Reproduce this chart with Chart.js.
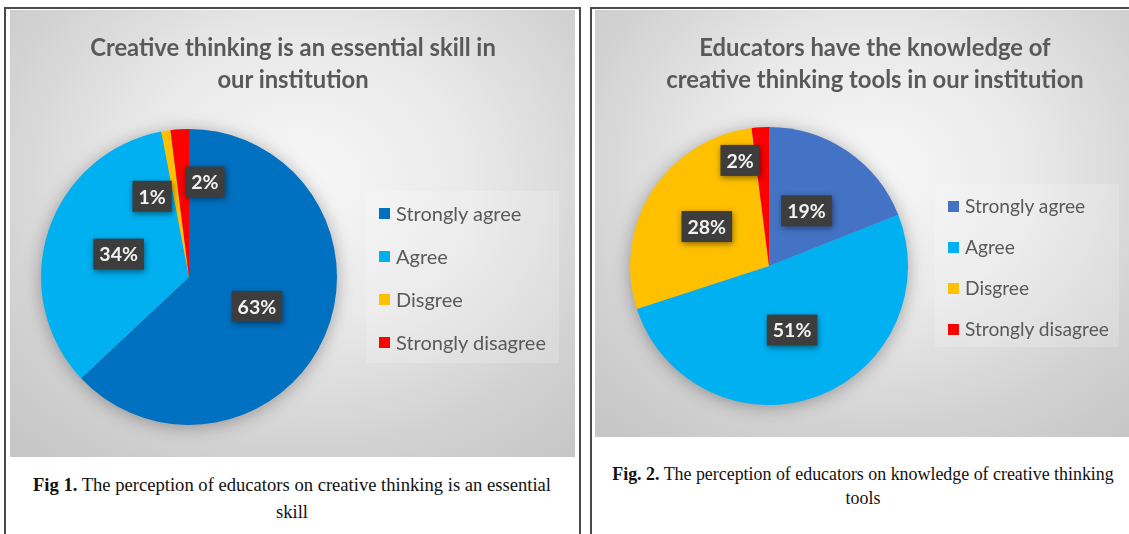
<!DOCTYPE html>
<html>
<head>
<meta charset="utf-8">
<script src="https://cdn.jsdelivr.net/npm/chart.js@4.4.1/dist/chart.umd.min.js"></script>
<style>
  body { margin: 0; width: 1129px; height: 534px; background: #fff; position: relative; overflow: hidden; }
  .frame { position: absolute; border: 2px solid #4a4a4a; border-bottom: none; box-sizing: border-box; }
  .panel { position: absolute; overflow: hidden;
    background: radial-gradient(ellipse 75% 80% at 52% 38%, #f7f7f7 0%, #e9e9e9 40%, #d2d2d2 75%, #c6c6c6 100%); }
  .panel canvas { position: absolute; left: 0; top: 0; }
  .title { position: absolute; width: 520px; text-align: center; font: bold 23.8px Lato, sans-serif;
    color: #595959; line-height: 31.5px; white-space: nowrap; }
  .legend { position: absolute; background: rgba(255,255,255,0.18); }
  .legend .item { position: absolute; white-space: nowrap; font-family: Lato, sans-serif; color: #595959; line-height: 22px; }
  .legend .swatch { position: absolute; width: 11px; height: 11px; top: 6px; }
  .caption { position: absolute; width: 560px; text-align: center; white-space: nowrap;
    font-family: "Liberation Serif", "Times New Roman", serif; color: #111; }
</style>
</head>
<body>
<div class="frame" style="left:4px; top:7px; width:577px; height:540px;"></div>
<div class="frame" style="left:590px; top:7px; width:560px; height:540px; border-right:none;"></div>

<div class="panel" id="panel1" style="left:10px; top:10px; width:565px; height:447px;">
  <canvas id="pie1" width="565" height="447"></canvas>
</div>
<div class="panel" id="panel2" style="left:595px; top:10px; width:534px; height:427px;">
  <canvas id="pie2" width="534" height="427"></canvas>
</div>

<div class="title" style="left:33px; top:32px;">Creative thinking is an essential skill in<br>our institution</div>
<div class="title" style="left:615px; top:32px;">Educators have the knowledge of<br>creative thinking tools in our institution</div>

<div class="legend" id="legend1" style="left:366px; top:191px; width:193px; height:172px; font-size:20px;"></div>
<div class="legend" id="legend2" style="left:935px; top:184px; width:184px; height:163px; font-size:19.2px;"></div>

<div class="caption" style="left:12px; top:471px; line-height:27px; font-size:18.6px;"><b>Fig 1.</b> The perception of educators on creative thinking is an essential<br>skill</div>
<div class="caption" style="left:583px; top:462px; line-height:24px; font-size:17.9px;"><b>Fig. 2.</b> The perception of educators on knowledge of creative thinking<br>tools</div>

<script>
// answer categories (same for both figures)
const categories = ['Strongly agree', 'Agree', 'Disgree', 'Strongly disagree'];

// Fig 1 - creative thinking is an essential skill (%)
const essentialSkill = [63, 34, 1, 2];
// Fig 2 - educators know creative thinking tools (%)
const toolsKnowledge = [19, 51, 28, 2];

const colors1 = ['#0070C0', '#00B0F0', '#FFC000', '#FF0000'];
const colors2 = ['#4472C4', '#00B0F0', '#FFC000', '#FF0000'];

// soft shadow behind the whole pie
const pieShadow = {
  id: 'pieShadow',
  beforeDatasetsDraw(chart) {
    const arc = chart.getDatasetMeta(0).data[0];
    if (!arc) return;
    const ctx = chart.ctx;
    ctx.save();
    ctx.shadowColor = 'rgba(0,0,0,0.35)';
    ctx.shadowBlur = 18;
    ctx.shadowOffsetY = 2;
    ctx.beginPath();
    ctx.arc(arc.x, arc.y, arc.outerRadius - 1, 0, Math.PI * 2);
    ctx.fillStyle = '#999';
    ctx.fill();
    ctx.restore();
  }
};

// dark callout boxes with the percentage, Excel style
const boxLabels = {
  id: 'boxLabels',
  afterDatasetsDraw(chart, args, opts) {
    const ctx = chart.ctx;
    const values = chart.data.datasets[0].data;
    chart.getDatasetMeta(0).data.forEach((arc, i) => {
      const mid = (arc.startAngle + arc.endAngle) / 2;
      const f = opts.radius[i];
      const shift = opts.shift[i];
      const x = arc.x + Math.cos(mid) * arc.outerRadius * f + shift[0];
      const y = arc.y + Math.sin(mid) * arc.outerRadius * f + shift[1];
      const text = values[i] + '%';
      ctx.save();
      ctx.font = 'bold 19.5px Lato, sans-serif';
      const w = ctx.measureText(text).width + 12;
      const h = 31;
      ctx.shadowColor = 'rgba(0,0,0,0.45)';
      ctx.shadowBlur = 6;
      ctx.shadowOffsetX = 1;
      ctx.shadowOffsetY = 2;
      ctx.fillStyle = '#3d3d3d';
      ctx.fillRect(x - w / 2, y - h / 2, w, h);
      ctx.shadowColor = 'transparent';
      ctx.fillStyle = '#f2f2f2';
      ctx.textAlign = 'center';
      ctx.textBaseline = 'middle';
      ctx.fillText(text, x, y + 1);
      ctx.restore();
    });
  }
};

function makePie(id, values, colors, padding, labelOpts) {
  return new Chart(document.getElementById(id), {
    type: 'pie',
    data: {
      labels: categories,
      datasets: [{ data: values, backgroundColor: colors, borderWidth: 0 }]
    },
    options: {
      responsive: false,
      animation: false,
      layout: { padding: padding },
      plugins: {
        legend: { display: false },
        tooltip: { enabled: false },
        boxLabels: labelOpts
      }
    },
    plugins: [pieShadow, boxLabels]
  });
}

function makeLegend(id, colors, rowGap) {
  const el = document.getElementById(id);
  categories.forEach((c, i) => {
    const item = document.createElement('div');
    item.className = 'item';
    item.style.left = '13px';
    item.style.top = (11 + i * rowGap) + 'px';
    item.innerHTML = '<span class="swatch" style="left:0;background:' + colors[i] + '"></span>' +
      '<span style="margin-left:17px">' + c + '</span>';
    el.appendChild(item);
  });
}

makePie('pie1', essentialSkill, colors1,
  { left: 31, right: 238, top: 119, bottom: 32 },
  { radius: [0.5, 0.5, 0.6, 0.65], shift: [[0, 0], [0, 0], [-23, 7], [22, 1]] });

makePie('pie2', toolsKnowledge, colors2,
  { left: 35, right: 221, top: 117, bottom: 32 },
  { radius: [0.48, 0.49, 0.53, 0.79], shift: [[0, 0], [0, 0], [0, 0], [-22, 4]] });

makeLegend('legend1', colors1, 43);
makeLegend('legend2', colors2, 41);
</script>
</body>
</html>
